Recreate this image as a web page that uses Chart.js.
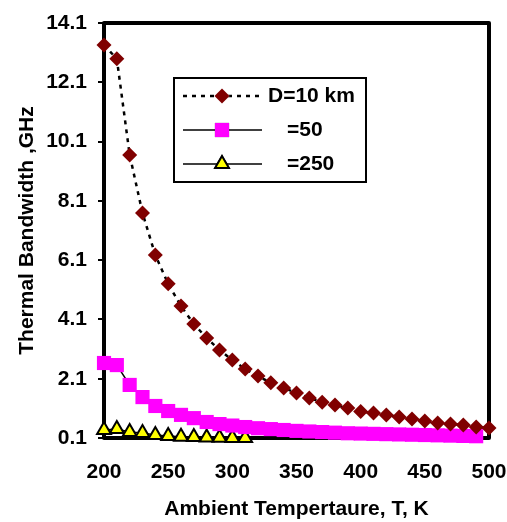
<!DOCTYPE html>
<html>
<head>
<meta charset="utf-8">
<script src="https://cdn.jsdelivr.net/npm/chart.js@4.4.1/dist/chart.umd.min.js"></script>
<style>
  html, body { margin: 0; padding: 0; background: #fff; }
  #wrap { width: 507px; height: 522px; }
</style>
</head>
<body>
<div id="wrap"><canvas id="chart" width="507" height="522"></canvas></div>
<script>
// ambient temperature, K
const temps = [200, 210, 220, 230, 240, 250, 260, 270, 280, 290, 300, 310, 320, 330, 340, 350,
  360, 370, 380, 390, 400, 410, 420, 430, 440, 450, 460, 470, 480, 490, 500];
// thermal bandwidth, GHz
const bwD10 = [13.36, 12.89, 9.65, 7.69, 6.27, 5.30, 4.55, 3.95, 3.47, 3.07, 2.73, 2.43, 2.19, 1.96,
  1.79, 1.62, 1.45, 1.31, 1.21, 1.11, 0.99, 0.94, 0.88, 0.81, 0.74, 0.67, 0.61, 0.57, 0.54, 0.47, 0.44];
const bwD50 = [2.63, 2.56, 1.89, 1.48, 1.18, 1.01, 0.88, 0.77, 0.64, 0.57, 0.52, 0.47, 0.43, 0.40,
  0.37, 0.34, 0.32, 0.30, 0.28, 0.26, 0.25, 0.24, 0.23, 0.22, 0.21, 0.20, 0.19, 0.18, 0.17, 0.16];
const bwD250 = [0.37, 0.40, 0.30, 0.27, 0.20, 0.17, 0.14, 0.13, 0.12, 0.11, 0.10, 0.10];
const seriesLabels = ["D=10 km", "=50", "=250"];
const yTicks = [0.1, 2.1, 4.1, 6.1, 8.1, 10.1, 12.1, 14.1];
const xTicks = [200, 250, 300, 350, 400, 450, 500];

const toPoints = (vals) => vals.map((v, i) => ({ x: temps[i], y: v }));
const FONT = "'Liberation Sans', Arial, sans-serif";

Chart.defaults.font.family = FONT;
Chart.defaults.font.weight = "bold";
Chart.defaults.color = "#000";

// thick black frame round the plot area
const framePlugin = {
  id: "frame",
  beforeDatasetsDraw(chart) {
    const { ctx, chartArea: a } = chart;
    ctx.save();
    ctx.strokeStyle = "#000";
    ctx.lineWidth = 4;
    ctx.lineJoin = "round";
    ctx.strokeRect(a.left, a.top, a.right - a.left, a.bottom - a.top);
    ctx.restore();
  },
};

// boxed legend with line + marker samples, like the excel one
const legendPlugin = {
  id: "boxLegend",
  afterDraw(chart) {
    const ctx = chart.ctx;
    const box = { x: 174, y: 78, w: 192, h: 104 };
    const rows = [96, 130, 164];
    const textX = [268, 287, 287];
    ctx.save();
    ctx.fillStyle = "#fff";
    ctx.fillRect(box.x, box.y, box.w, box.h);
    ctx.strokeStyle = "#000";
    ctx.lineWidth = 2;
    ctx.strokeRect(box.x, box.y, box.w, box.h);
    chart.data.datasets.forEach((ds, i) => {
      const y = rows[i];
      ctx.beginPath();
      ctx.setLineDash(ds.borderDash || []);
      ctx.strokeStyle = ds.borderColor;
      ctx.lineWidth = ds.borderWidth;
      ctx.moveTo(183, y);
      ctx.lineTo(262, y);
      ctx.stroke();
      ctx.setLineDash([]);
      Chart.helpers.drawPoint(ctx, {
        pointStyle: ds.pointStyle,
        radius: ds.pointRadius,
        borderWidth: ds.pointBorderWidth,
        rotation: 0,
      }, 222, y);
      ctx.fillStyle = ds.pointBackgroundColor;
      ctx.strokeStyle = ds.pointBorderColor;
      ctx.lineWidth = ds.pointBorderWidth;
      ctx.fill();
      if (ds.pointBorderWidth > 0) ctx.stroke();
      ctx.fillStyle = "#000";
      ctx.font = "bold 21px " + FONT;
      ctx.textBaseline = "middle";
      ctx.fillText(ds.label, textX[i], y);
    });
    ctx.restore();
  },
};

new Chart(document.getElementById("chart"), {
  type: "line",
  data: {
    datasets: [
      {
        label: seriesLabels[0],
        data: toPoints(bwD10),
        borderColor: "#000",
        borderWidth: 2.5,
        borderDash: [4, 5],
        pointStyle: "rectRot",
        pointRadius: 7.5,
        pointBackgroundColor: "#800000",
        pointBorderColor: "#800000",
        pointBorderWidth: 0,
        clip: false,
      },
      {
        label: seriesLabels[1],
        data: toPoints(bwD50),
        borderColor: "#000",
        borderWidth: 1.5,
        pointStyle: "rect",
        pointRadius: 10,
        pointBackgroundColor: "#ff00ff",
        pointBorderColor: "#ff00ff",
        pointBorderWidth: 0,
        clip: false,
      },
      {
        label: seriesLabels[2],
        data: toPoints(bwD250),
        borderColor: "#000",
        borderWidth: 1.5,
        pointStyle: "triangle",
        pointRadius: 8,
        pointBackgroundColor: "#ffff00",
        pointBorderColor: "#000",
        pointBorderWidth: 2,
        clip: false,
      },
    ],
  },
  options: {
    responsive: false,
    animation: false,
    layout: { padding: { top: 23, right: 18, left: 0, bottom: 0 } },
    plugins: { legend: { display: false }, tooltip: { enabled: false } },
    scales: {
      x: {
        type: "linear",
        min: 200,
        max: 500,
        afterFit: (s) => { s.height = 84; s.paddingLeft = 0; s.paddingRight = 0; },
        afterBuildTicks: (s) => { s.ticks = xTicks.map((v) => ({ value: v })); },
        grid: { display: false, drawTicks: false },
        border: { display: false },
        ticks: { padding: 22, font: { size: 21, weight: "bold" }, color: "#000" },
        title: {
          display: true,
          text: "Ambient Tempertaure, T, K",
          font: { size: 21, weight: "bold" },
          color: "#000",
          padding: { top: 0, bottom: 0 },
        },
      },
      y: {
        type: "linear",
        min: 0.1,
        max: 14.1,
        afterFit: (s) => { s.width = 104; s.paddingTop = 0; s.paddingBottom = 0; },
        afterBuildTicks: (s) => { s.ticks = yTicks.map((v) => ({ value: v })); },
        grid: { display: true, drawOnChartArea: false, drawTicks: true, tickLength: 6, color: "#000", lineWidth: 2 },
        border: { display: false },
        ticks: {
          padding: 11,
          font: { size: 21, weight: "bold" },
          color: "#000",
          callback: (v) => v.toFixed(1),
        },
        title: {
          display: true,
          text: "Thermal Bandwidth ,GHz",
          font: { size: 21, weight: "bold" },
          color: "#000",
          padding: { top: 15, bottom: 0 },
        },
      },
    },
  },
  plugins: [framePlugin, legendPlugin],
});
</script>
</body>
</html>
